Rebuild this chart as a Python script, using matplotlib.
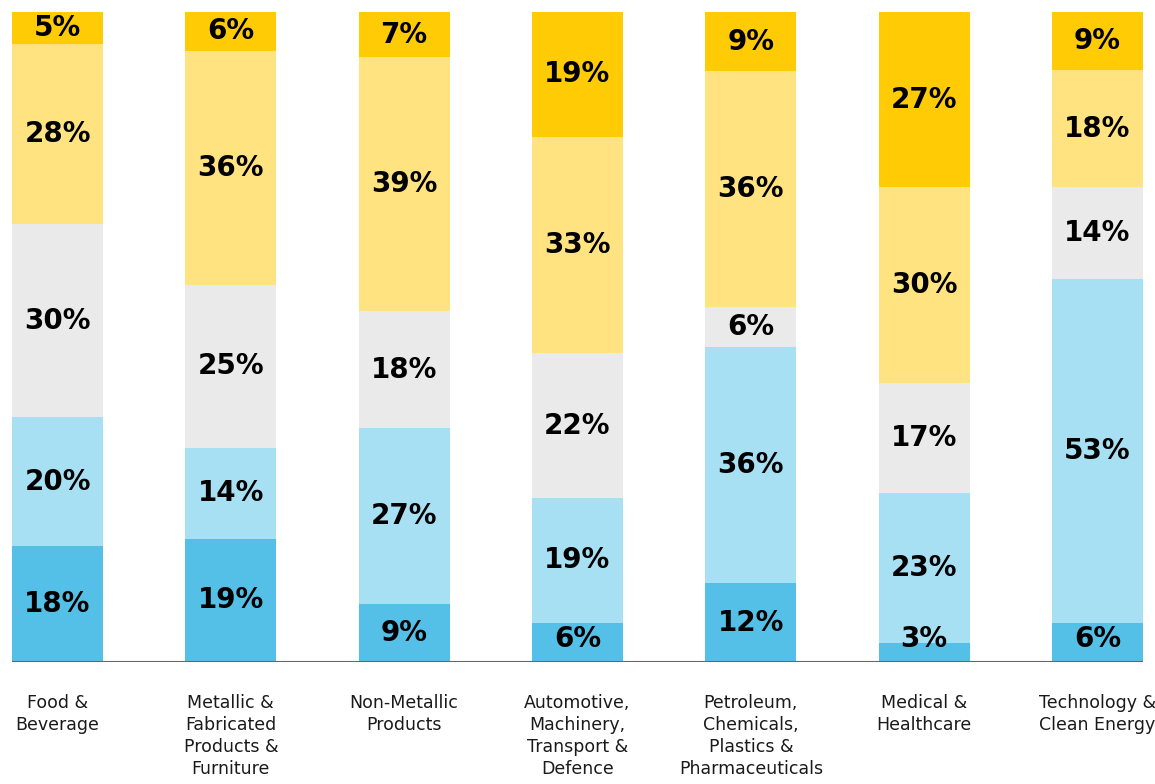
import matplotlib.pyplot as plt
import numpy as np

CATEGORIES = ['Food &\nBeverage',
              'Metallic &\nFabricated\nProducts &\nFurniture',
              'Non-Metallic\nProducts',
              'Automotive,\nMachinery,\nTransport &\nDefence',
              'Petroleum,\nChemicals,\nPlastics &\nPharmaceuticals',
              'Medical &\nHealthcare',
              'Technology &\nClean Energy']

# stacked segments, bottom to top (percent of each sector)
SEG_1 = [18, 19, 9, 6, 12, 3, 6]
SEG_2 = [20, 14, 27, 19, 36, 23, 53]
SEG_3 = [30, 25, 18, 22, 6, 17, 14]
SEG_4 = [28, 36, 39, 33, 36, 30, 18]
SEG_5 = [5, 6, 7, 19, 9, 27, 9]

COLORS = ['#54C0E8', '#A8E0F3', '#EAEAEA', '#FFE380', '#FFCB05']
BAR_WIDTH = 0.525

if __name__ == '__main__':
    fig = plt.figure(figsize=(11.55, 7.84), dpi=100)
    ax = fig.add_axes([0.0104, 0.1556, 0.9792, 0.8291])

    series = np.array([SEG_1, SEG_2, SEG_3, SEG_4, SEG_5], dtype=float)
    totals = series.sum(axis=0)
    shares = series / totals * 100  # each bar fills 100%
    x = np.arange(len(CATEGORIES))

    bottom = np.zeros(len(CATEGORIES))
    for vals, shr, color in zip(series, shares, COLORS):
        ax.bar(x, shr, BAR_WIDTH, bottom=bottom, color=color, linewidth=0)
        for xi, v, b, h in zip(x, vals, bottom, shr):
            y = max(b + h / 2, 3.6)
            ax.text(xi, y, '{0:.0f}%'.format(v), ha='center', va='center',
                    fontsize=20, fontweight='bold', color='black')
        bottom += shr

    ax.axhline(0, color='#666666', linewidth=1.5, zorder=5)
    ax.set_xlim(-BAR_WIDTH / 2, len(CATEGORIES) - 1 + BAR_WIDTH / 2)
    ax.set_ylim(0, 100)
    ax.set_yticks([])
    ax.set_xticks(x)
    ax.set_xticklabels(CATEGORIES, fontsize=12.5, color='#1a1a1a', linespacing=1.28, va='top')
    ax.tick_params(axis='x', length=0, pad=23)
    for side in ['top', 'right', 'left', 'bottom']:
        ax.spines[side].set_visible(False)

    plt.savefig('out.png', dpi=100)
